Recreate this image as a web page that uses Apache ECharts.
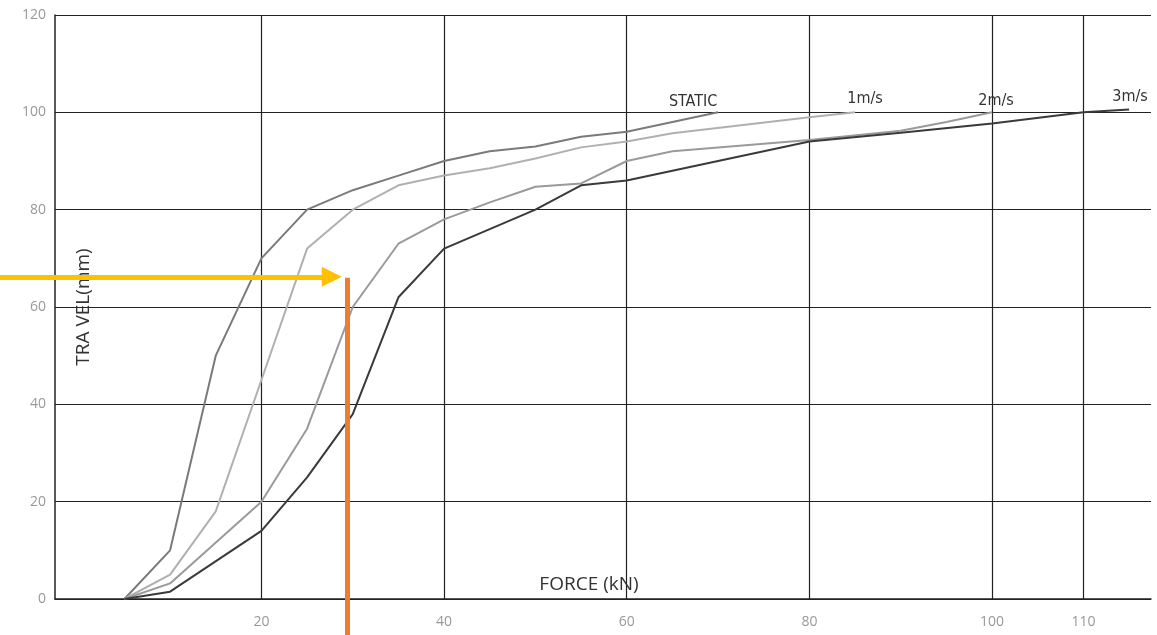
<!DOCTYPE html>
<html><head><meta charset="utf-8">
<script src="https://cdn.jsdelivr.net/npm/echarts@6/dist/echarts.min.js"></script>
<style>html,body{margin:0;padding:0;background:#fff}#c{width:1157px;height:635px}</style>
</head><body><div id="c"></div>
<script>
// Tick values
const xTicks = [20, 40, 60, 80, 100, 110];
const yTicks = [0, 20, 40, 60, 80, 100, 120];

// Series names
const seriesNames = ['STATIC', '1m/s', '2m/s', '3m/s'];

// STATIC
const staticForce  = [5, 10, 15, 20, 25, 30, 35, 40, 45, 50, 55, 60, 70];
const staticTravel = [0, 10, 50, 70, 80, 84, 87, 90, 92, 93, 95, 96, 100];

// 1 m/s
const oneForce  = [5, 10, 15, 20, 25, 30, 35, 40, 45, 50, 55, 60, 65, 80, 85];
const oneTravel = [0, 5, 18, 45, 72, 80, 85, 87, 88.5, 90.5, 92.8, 94, 95.7, 99, 100];

// 2 m/s
const twoForce  = [5, 10, 20, 25, 30, 35, 40, 45, 50, 55, 60, 65, 80, 90, 95, 100];
const twoTravel = [0, 3.2, 20, 35, 60, 73, 78, 81.5, 84.7, 85.4, 90, 92, 94.3, 96.2, 98, 100];

// 3 m/s
const threeForce  = [5, 10, 20, 25, 30, 35, 40, 50, 55, 60, 80, 90, 100, 110, 115];
const threeTravel = [0, 1.5, 14, 25, 38, 62, 72, 80, 85, 86, 94, 95.8, 97.7, 100, 100.6];

// Annotation (data units)
const arrowTravel = 66.2;
const arrowFromForce = -8.7;
const arrowToForce = 27.7;
const markForce = 29.4;
const markTopTravel = 66;
const markBottomTravel = -8;

const lineColors = ['#7a7a7a', '#b0b0b0', '#9a9a9a', '#3a3a3a'];
const labelOffsets = [[-25, -2], [10, -5], [4, -3], [1, -5]];
const forces = [staticForce, oneForce, twoForce, threeForce];
const travels = [staticTravel, oneTravel, twoTravel, threeTravel];
const condensed = "'DejaVu Sans Condensed', 'Liberation Sans Narrow', Roboto, sans-serif";

const chart = echarts.init(document.getElementById('c'));

const curveSeries = seriesNames.map((name, s) => ({
  name: name,
  type: 'line',
  showSymbol: false,
  symbol: 'none',
  z: 3,
  lineStyle: { color: lineColors[s], width: 2 },
  endLabel: {
    show: true, formatter: name, distance: 0,
    align: 'center', verticalAlign: 'bottom', offset: labelOffsets[s],
    color: '#333', fontSize: 16, fontFamily: condensed
  },
  data: forces[s].map((f, i) => [f, travels[s][i]])
}));

chart.setOption({
  animation: false,
  backgroundColor: '#fff',
  grid: { left: 55, right: 6, top: 15, bottom: 36, outerBoundsMode: 'none', containLabel: false },
  xAxis: {
    type: 'value', min: -2.6, max: 117.4,
    name: 'FORCE (kN)', nameLocation: 'middle', nameGap: -24, nameMoveOverlap: false,
    nameTextStyle: { color: '#333', fontSize: 19, fontFamily: 'Open Sans', padding: [0, 28, 0, 0] },
    axisLine: { show: true, onZero: false, lineStyle: { color: '#222', width: 1.5 } },
    axisTick: { show: false, customValues: xTicks },
    axisLabel: { customValues: xTicks, color: '#999', fontSize: 14, margin: 16, fontFamily: 'Open Sans' },
    splitLine: { show: true, lineStyle: { color: '#222', width: 1.2 } }
  },
  yAxis: {
    type: 'value', min: 0, max: 120, interval: 20,
    name: 'TRA VEL(mm)', nameLocation: 'middle', nameGap: -38, nameRotate: 90, nameMoveOverlap: false,
    nameTextStyle: { color: '#333', fontSize: 19, fontFamily: 'Open Sans' },
    axisLine: { show: true, onZero: false, lineStyle: { color: '#222', width: 1.5 } },
    axisTick: { show: false },
    axisLabel: { color: '#999', fontSize: 14, margin: 9, fontFamily: 'Open Sans' },
    splitLine: { show: true, lineStyle: { color: '#222', width: 1.2 } }
  },
  series: curveSeries.concat([
    {
      type: 'lines', coordinateSystem: 'cartesian2d', clip: false, z: 5,
      symbol: ['none', 'triangle'], symbolSize: [20, 20],
      lineStyle: { color: '#FFC000', width: 5, opacity: 1 },
      data: [{ coords: [[arrowFromForce, arrowTravel], [arrowToForce, arrowTravel]] }]
    },
    {
      type: 'lines', coordinateSystem: 'cartesian2d', clip: false, z: 6,
      symbol: 'none',
      lineStyle: { color: '#ED7D31', width: 5, opacity: 1 },
      data: [{ coords: [[markForce, markTopTravel], [markForce, markBottomTravel]] }]
    }
  ])
});
</script>
</body></html>
